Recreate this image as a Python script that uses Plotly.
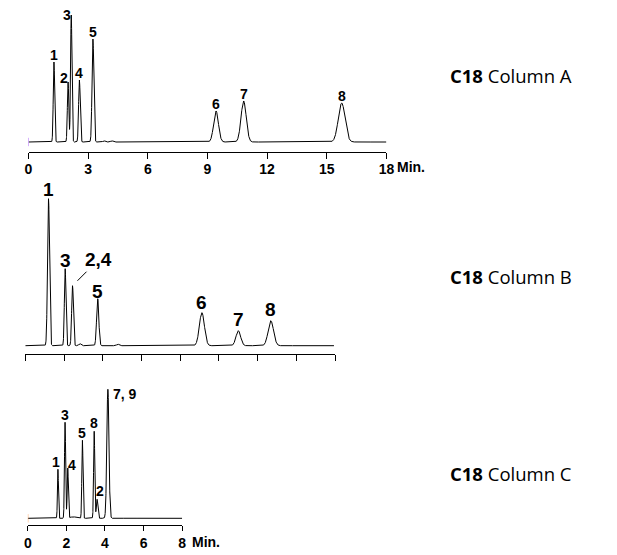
import numpy as np
import plotly.graph_objects as go

# ---------------- data ----------------
# Column A (time in min, height in arbitrary detector units)
a_labels = ["1", "2", "3", "4", "5", "6", "7", "8"]
a_rt = [1.28, 1.99, 2.15, 2.56, 3.24, 9.43, 10.82, 15.75]
a_height = [80, 60, 127, 62, 103, 31, 41, 39]
a_sigma = [0.035, 0.035, 0.035, 0.04, 0.045, 0.12, 0.13, 0.17]
a_minor_rt = [3.8, 4.2]
a_minor_h = [1.2, 1.2]
a_ticks = [0, 3, 6, 9, 12, 15, 18]

# Column B (time scale unlabeled in the reference)
b_labels = ["1", "3", "2,4", "5", "6", "7", "8"]
b_rt = [0.60, 1.03, 1.22, 1.87, 4.56, 5.50, 6.34]
b_height = [147, 77, 60, 47, 33, 15, 25]
b_sigma = [0.025, 0.02, 0.022, 0.028, 0.065, 0.06, 0.07]
b_minor_rt = [1.41, 2.39]
b_minor_h = [2, 1.5]
b_ticks = [0, 1, 2, 3, 4, 5, 6, 7, 8]

# Column C
c_labels = ["1", "3", "4", "5", "8", "2", "7, 9"]
c_rt = [1.56, 1.93, 2.07, 2.83, 3.44, 3.59, 4.15]
c_height = [49, 96, 50, 78, 87, 19, 129]
c_sigma = [0.025, 0.03, 0.03, 0.03, 0.03, 0.04, 0.055]
c_minor_rt = [2.35, 5.3]
c_minor_h = [1.5, 0.8]
c_ticks = [0, 2, 4, 6, 8]

column_names = ["A", "B", "C"]

# ---------------- helpers ----------------
W, H = 617, 555


def signal(t, rts, hs, sig, mrt, mh, msig):
    y = np.zeros_like(t)
    for r, h, s in zip(rts, hs, sig):
        y += h * np.exp(-0.5 * ((t - r) / s) ** 2)
    for r, h in zip(mrt, mh):
        y += h * np.exp(-0.5 * ((t - r) / msig) ** 2)
    return y


def xdom(p0, p1):
    return [p0 / W, p1 / W]


def ydom(top, bottom):
    return [1 - bottom / H, 1 - top / H]


NARROW = "Liberation Sans Narrow, Arial Narrow, Liberation Sans, Arial"
ARIAL = "Liberation Sans, Arial"

fig = go.Figure()

tA = np.linspace(0, 18, 5401)
tB = np.linspace(0, 7.97, 4001)
tC = np.linspace(0, 8, 4001)
yA = signal(tA, a_rt, a_height, a_sigma, a_minor_rt, a_minor_h, 0.06)
yB = signal(tB, b_rt, b_height, b_sigma, b_minor_rt, b_minor_h, 0.03)
yC = signal(tC, c_rt, c_height, c_sigma, c_minor_rt, c_minor_h, 0.15)

line = dict(color="black", width=1)
fig.add_trace(go.Scatter(x=tA, y=yA, mode="lines", line=line, xaxis="x", yaxis="y", hoverinfo="skip"))
fig.add_trace(go.Scatter(x=tB, y=yB, mode="lines", line=line, xaxis="x2", yaxis="y2", hoverinfo="skip"))
fig.add_trace(go.Scatter(x=tC, y=yC, mode="lines", line=line, xaxis="x3", yaxis="y3", hoverinfo="skip"))

# injection marks at the start of the baselines
mk = dict(symbol="line-ns-open", size=6, line=dict(color="black", width=1))
fig.add_trace(go.Scatter(x=[0], y=[0], mode="markers", marker=mk, xaxis="x", yaxis="y", hoverinfo="skip"))
fig.add_trace(go.Scatter(x=[0], y=[0], mode="markers", marker=mk, xaxis="x3", yaxis="y3", hoverinfo="skip"))

axis_common = dict(showgrid=False, zeroline=False, showline=True, linecolor="black", linewidth=1,
                   ticks="outside", tickcolor="black", tickwidth=1, mirror=False, fixedrange=True)
yaxis_common = dict(visible=False, fixedrange=True)

fig.update_layout(
    width=W, height=H, margin=dict(l=0, r=0, t=0, b=0),
    paper_bgcolor="white", plot_bgcolor="white", showlegend=False,
    xaxis=dict(domain=xdom(25, 390), range=[0, 18], anchor="y", tickvals=a_ticks, ticklen=6,
               ticklabelstandoff=-2,
               tickfont=dict(family=NARROW, size=14, color="black", weight="bold"), **axis_common),
    yaxis=dict(domain=ydom(5, 152), range=[-10, 137], anchor="x", **yaxis_common),
    xaxis2=dict(domain=xdom(21.7, 337.7), range=[0, 8], anchor="y2", tickvals=b_ticks, ticklen=6,
                showticklabels=False, **axis_common),
    yaxis2=dict(domain=ydom(180, 354), range=[-8.3, 165.7], anchor="x2", **yaxis_common),
    xaxis3=dict(domain=xdom(24.3, 181.7), range=[0, 8], anchor="y3", tickvals=c_ticks, ticklen=5,
                ticklabelstandoff=0,
                tickfont=dict(family=ARIAL, size=14, color="black", weight="bold"), **axis_common),
    yaxis3=dict(domain=ydom(380, 525), range=[-6.7, 138.3], anchor="x3", **yaxis_common),
)

ann = []
# peak labels: (xshift, yshift) offsets in pixels from each apex
a_off = [(0, 7), (-4, 4), (-4, 0), (0, 7), (0, 7), (0, 7), (0, 7), (0, 7)]
for lab, r, h, (dx, dy) in zip(a_labels, a_rt, a_height, a_off):
    ann.append(dict(x=r, y=h, xref="x", yref="y", text=lab, showarrow=False, xanchor="center",
                    yanchor="middle", xshift=dx, yshift=dy,
                    font=dict(family=NARROW, size=14, color="black", weight="bold")))

b_off = [(0, 9), (0, 8), None, (0, 7), (0, 10), (0, 11), (0, 11)]
for lab, r, h, off in zip(b_labels, b_rt, b_height, b_off):
    f = dict(family=ARIAL, size=19, color="black", weight="bold")
    if off is None:
        ann.append(dict(x=r, y=h, xref="x2", yref="y2", text=lab, showarrow=True, arrowhead=0,
                        arrowwidth=1, arrowcolor="black", ax=26, ay=-26, standoff=7, font=f))
    else:
        ann.append(dict(x=r, y=h, xref="x2", yref="y2", text=lab, showarrow=False, xanchor="center",
                        yanchor="middle", xshift=off[0], yshift=off[1], font=f))

c_off = [(-2, 7), (0, 7), (4, 3), (0, 7), (0, 8), (3, 8), None]
for lab, r, h, off in zip(c_labels, c_rt, c_height, c_off):
    f = dict(family=ARIAL, size=14, color="black", weight="bold")
    if off is None:
        ann.append(dict(x=r, y=h, xref="x3", yref="y3", text=lab, showarrow=False, xanchor="left",
                        yanchor="middle", xshift=3, yshift=-5, font=f))
    else:
        ann.append(dict(x=r, y=h, xref="x3", yref="y3", text=lab, showarrow=False, xanchor="center",
                        yanchor="middle", xshift=off[0], yshift=off[1], font=f))

# "Min." units after the last tick labels
ann.append(dict(x=18, y=1 - 166.7 / H, xref="x", yref="paper", text="Min.", showarrow=False,
                xanchor="left", yanchor="middle", xshift=9,
                font=dict(family=NARROW, size=14, color="black", weight="bold")))
ann.append(dict(x=8, y=1 - 542.3 / H, xref="x3", yref="paper", text="Min.", showarrow=False,
                xanchor="left", yanchor="middle", xshift=8,
                font=dict(family=ARIAL, size=14, color="black", weight="bold")))

# column titles
for name, py in zip(column_names, [75.7, 276.7, 473.3]):
    ann.append(dict(x=517 / W, y=1 - py / H, xref="paper", yref="paper",
                    text="<b>C18</b> Column " + name, showarrow=False, xanchor="center", yanchor="middle",
                    font=dict(family="Open Sans, Noto Sans", size=18.5, color="black")))

fig.update_layout(annotations=ann)
fig.write_html("out.html", config={"displayModeBar": False},
               post_script="document.body.style.margin='0';document.body.style.overflow='hidden';")
